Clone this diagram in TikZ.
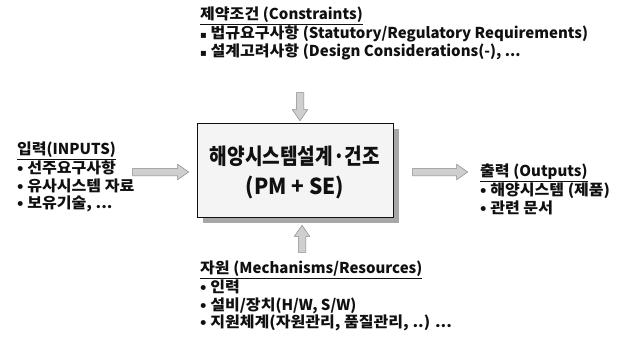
\documentclass[tikz,border=0pt]{standalone}
\usepackage{fontspec}
\setmainfont{Noto Sans CJK KR}[FakeStretch=1.07]
\newfontfamily\latfont{Noto Sans CJK KR}[FakeStretch=1.0]
\newfontfamily\corefont{Noto Sans CJK KR}[FakeStretch=0.87]
\newfontfamily\corelat{Noto Sans CJK KR}[FakeStretch=0.95]
\newfontfamily\symfont{DejaVu Sans}
\usetikzlibrary{shapes.arrows,positioning}
\definecolor{ink}{HTML}{101010}
\definecolor{shade}{HTML}{8A8A8A}
\definecolor{dotfill}{HTML}{CFCFCF}
\definecolor{boxfill}{HTML}{F4F4F4}
\newcommand{\sqb}{{\symfont\fontsize{10}{10}\selectfont ▪}}
\newcommand{\lat}[1]{{\latfont #1}}

\begin{document}
\begin{tikzpicture}[
  x=1pt,y=-1pt,
  block/.style={font=\bfseries\fontsize{15}{17.6}\selectfont,text=ink,align=left,anchor=north west,inner sep=0pt},
  core/.style={draw=ink,line width=.8pt,fill=boxfill,minimum width=196pt,minimum height=94pt,
    font=\bfseries\fontsize{22}{30}\selectfont,text=ink,align=center},
  fat/.style={single arrow,draw=shade,fill=dotfill,line width=.5pt,inner sep=3.5pt,
    single arrow head extend=4pt,single arrow tip angle=70,anchor=center}
]
\useasboundingbox (0,0) rectangle (626,337);
\fill[white] (0,0) rectangle (626,337);

% centre box with shadow
\fill[shade!75] (203,129) rectangle (399,223);
\node[core] (design) at (295,170) {};
\node[font=\bfseries\fontsize{22}{30}\selectfont,text=ink,align=center] (designtxt) at (295,172)
  {{\corefont 해양시스템설계·건조}\\{\corelat (PM + SE)}};

% text blocks
\node[block] (cons) at (200,7) {\underline{제약조건 \lat{(Constraints)}}\\
  \sqb\ 법규요구사항 \lat{(Statutory/Regulatory Requirements)}\\
  \sqb\ 설계고려사항 \lat{(Design Considerations(-), ...}};
\node[block] (inp) at (17,142) {\underline{입력\lat{(INPUTS)}}\\
  • 선주요구사항\\ • 유사시스템 자료\\ • 보유기술, ...};
\node[block] (outp) at (480,164) {\underline{출력 \lat{(Outputs)}}\\
  • 해양시스템 (제품)\\ • 관련 문서};
\node[block] (res) at (200,261) {\underline{자원 \lat{(Mechanisms/Resources)}}\\
  • 인력\\ • 설비/장치\lat{(H/W, S/W)}\\ • 지원체계(자원관리, 품질관리, ..) ...};

% block arrows
\node[fat,minimum height=28pt,shape border rotate=270] (down) at (300,104) {};
\node[fat,minimum height=27pt,shape border rotate=90] (up) at (302,241.5) {};
\node[fat,minimum height=56pt] (left) at (158,172) {};
\node[fat,minimum height=55pt] (right) at (437.5,172) {};
\end{tikzpicture}
\end{document}
